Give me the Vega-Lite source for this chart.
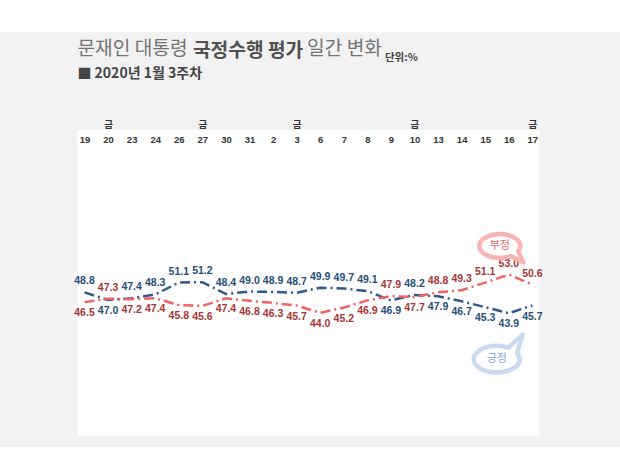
{
  "$schema": "https://vega.github.io/schema/vega-lite/v6.json",
  "description": "문재인 대통령 국정수행 평가 일간 변화 (2020년 1월 3주차)",
  "background": "#f2f2f2",
  "padding": {"left": 0, "top": 0, "right": 0, "bottom": 11},
  "spacing": 7,
  "center": true,
  "config": {"view": {"stroke": null}, "font": "Noto Sans CJK KR"},
  "vconcat": [
    {
      "width": 620,
      "height": 32,
      "view": {"fill": "white", "stroke": null},
      "data": {"values": []},
      "mark": "point"
    },
    {
      "width": 462,
      "height": 306,
      "view": {"fill": "white", "stroke": null},
      "title": {
        "text": "문재인 대통령 　　　　　　일간 변화",
        "subtitle": "■ 2020년 1월 3주차",
        "anchor": "start",
        "frame": "group",
        "fontSize": 19.2,
        "fontWeight": "normal",
        "color": "#737373",
        "subtitleFontSize": 14,
        "subtitleFontWeight": "bold",
        "subtitleColor": "#444444",
        "subtitlePadding": 8,
        "offset": 4,
        "dy": 44
      },
      "data": {
        "values": [
          {"d": "19", "pos": 48.8, "neg": 46.5},
          {"d": "20", "pos": 47.0, "neg": 47.3},
          {"d": "23", "pos": 47.4, "neg": 47.2},
          {"d": "24", "pos": 48.3, "neg": 47.4},
          {"d": "26", "pos": 51.1, "neg": 45.8},
          {"d": "27", "pos": 51.2, "neg": 45.6},
          {"d": "30", "pos": 48.4, "neg": 47.4},
          {"d": "31", "pos": 49.0, "neg": 46.8},
          {"d": "2", "pos": 48.9, "neg": 46.3},
          {"d": "3", "pos": 48.7, "neg": 45.7},
          {"d": "6", "pos": 49.9, "neg": 44.0},
          {"d": "7", "pos": 49.7, "neg": 45.2},
          {"d": "8", "pos": 49.1, "neg": 46.9},
          {"d": "9", "pos": 46.9, "neg": 47.9},
          {"d": "10", "pos": 48.2, "neg": 47.7},
          {"d": "13", "pos": 47.9, "neg": 48.8},
          {"d": "14", "pos": 46.7, "neg": 49.3},
          {"d": "15", "pos": 45.3, "neg": 51.1},
          {"d": "16", "pos": 43.9, "neg": 53.0},
          {"d": "17", "pos": 45.7, "neg": 50.6}
        ]
      },
      "transform": [{"fold": ["pos", "neg"], "as": ["s", "v"]}],
      "encoding": {
        "x": {
          "field": "d",
          "type": "ordinal",
          "scale": {
            "domain": ["19", "20", "23", "24", "26", "27", "30", "31", "2", "3", "6", "7", "8", "9", "10", "13", "14", "15", "16", "17"],
            "padding": 0.3
          },
          "axis": {
            "orient": "top",
            "domain": false,
            "ticks": false,
            "tickSize": 0,
            "labelPadding": 1,
            "labelAngle": 0,
            "labelOverlap": false,
            "labelFont": "Liberation Sans Narrow, Liberation Sans, Noto Sans CJK KR",
            "labelFontSize": 9.5,
            "labelFontWeight": "bold",
            "labelColor": "#333333",
            "labelLineHeight": 15,
            "labelExpr": "indexof(['20','27','3','10','17'], datum.value) >= 0 ? ['금', datum.value] : ['', datum.value]",
            "title": "단위:%",
            "titleX": 307,
            "titleY": -70,
            "titleAlign": "left",
            "titleBaseline": "alphabetic",
            "titleFontSize": 10.5,
            "titleFontWeight": "bold",
            "titleColor": "#444444"
          }
        },
        "y": {
          "field": "v",
          "type": "quantitative",
          "scale": {"domain": [15, 87], "nice": false, "zero": false},
          "axis": {
            "domain": false,
            "ticks": false,
            "labels": false,
            "grid": false,
            "title": "국정수행 평가",
            "titleAngle": 0,
            "titleX": 115,
            "titleY": -74,
            "titleAlign": "left",
            "titleBaseline": "alphabetic",
            "titleFontSize": 19.2,
            "titleFontWeight": "bold",
            "titleColor": "#505050"
          }
        }
      },
      "layer": [
        {
          "mark": {"type": "line", "strokeWidth": 2.5, "strokeDash": [10, 4, 2, 4]},
          "encoding": {
            "stroke": {
              "field": "s",
              "type": "nominal",
              "scale": {"domain": ["pos", "neg"], "range": ["#2d5a8a", "#f06262"]},
              "legend": null
            }
          }
        },
        {
          "transform": [{"filter": "(datum.s == 'pos' && datum.pos > datum.neg) || (datum.s == 'neg' && datum.neg > datum.pos)"}],
          "mark": {
            "type": "text",
            "font": "Liberation Sans Narrow, Liberation Sans",
            "fontSize": 10.5,
            "fontWeight": "bold",
            "baseline": "middle"
          },
          "encoding": {
            "text": {"field": "v", "type": "quantitative", "format": ".1f"},
            "yOffset": {"value": -11},
            "color": {
              "condition": {"test": "datum.s == 'pos'", "value": "#1f4e79"},
              "value": "#a83636"
            }
          }
        },
        {
          "transform": [{"filter": "(datum.s == 'pos' && datum.pos < datum.neg) || (datum.s == 'neg' && datum.neg < datum.pos)"}],
          "mark": {
            "type": "text",
            "font": "Liberation Sans Narrow, Liberation Sans",
            "fontSize": 10.5,
            "fontWeight": "bold",
            "baseline": "middle"
          },
          "encoding": {
            "text": {"field": "v", "type": "quantitative", "format": ".1f"},
            "yOffset": {"value": 11},
            "color": {
              "condition": {"test": "datum.s == 'pos'", "value": "#1f4e79"},
              "value": "#a83636"
            }
          }
        },
        {
          "transform": [{"filter": "datum.d == '16' && datum.s == 'neg'"}],
          "mark": {
            "type": "point",
            "shape": "M 0.55 0.484 A 1 0.58 0 1 1 0.9 0.253 L 1.15 0.8 Z",
            "size": 1681,
            "filled": true,
            "fill": "white",
            "stroke": "#f7b4b2",
            "strokeWidth": 4.5,
            "strokeJoin": "round",
            "opacity": 1
          },
          "encoding": {"xOffset": {"value": -9}, "yOffset": {"value": -28.5}}
        },
        {
          "transform": [{"filter": "datum.d == '16' && datum.s == 'neg'"}],
          "mark": {"type": "text", "fontSize": 11, "color": "#e06a6a", "baseline": "middle"},
          "encoding": {"text": {"value": "부정"}, "xOffset": {"value": -9}, "yOffset": {"value": -28.5}}
        },
        {
          "transform": [{"filter": "datum.d == '16' && datum.s == 'pos'"}],
          "mark": {
            "type": "point",
            "shape": "M 0.5 -0.502 A 1 0.58 0 1 0 0.88 -0.275 L 1.13 -1.07 Z",
            "size": 2116,
            "filled": true,
            "fill": "white",
            "stroke": "#c8dbf3",
            "strokeWidth": 4.5,
            "strokeJoin": "round",
            "opacity": 1
          },
          "encoding": {"xOffset": {"value": -12}, "yOffset": {"value": 46}}
        },
        {
          "transform": [{"filter": "datum.d == '16' && datum.s == 'pos'"}],
          "mark": {"type": "text", "fontSize": 11, "color": "#7ea6dc", "baseline": "middle"},
          "encoding": {"text": {"value": "긍정"}, "xOffset": {"value": -12}, "yOffset": {"value": 46}}
        }
      ]
    }
  ]
}
